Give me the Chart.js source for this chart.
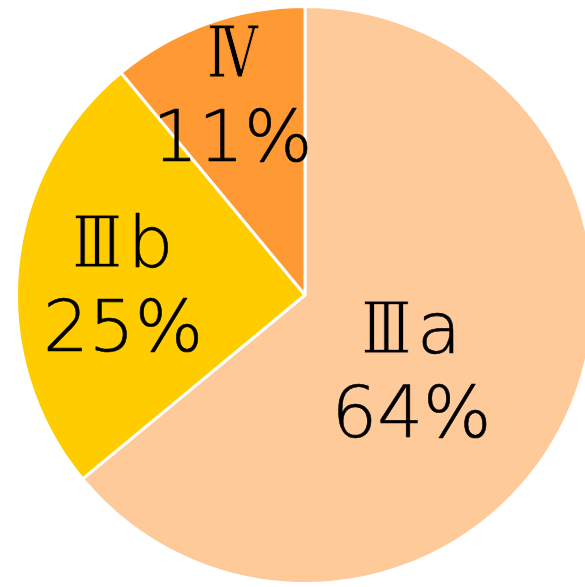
<!DOCTYPE html>
<html>
<head>
<meta charset="utf-8">
<script src="https://cdn.jsdelivr.net/npm/chart.js@4"></script>
<style>
  html, body { margin: 0; padding: 0; background: #fff; overflow: hidden; }
  #wrap { position: absolute; left: 0; top: 0; width: 610px; height: 590px; }
</style>
</head>
<body>
<div id="wrap"><canvas id="myChart" width="610" height="590"></canvas></div>
<script>
// datos del grafico
const estadios = ["Ⅲ", "Ⅲ", "Ⅳ"];
const subtipos = ["a", "b", ""];
const etiquetas = estadios.map((e, i) => e + subtipos[i]);
const porcentajes = [64, 25, 11];
const colores = ["#FFCA99", "#FFCC00", "#FF9933"];

// donde va cada etiqueta: fraccion del radio y giro en grados desde el centro del sector
const posEtiquetas = [[0.42, 3.3], [0.638, 3.3], [0.796, 1.4]];

// plugin para escribir etiqueta + porcentaje dentro de cada sector
const textoSectores = {
    id: "textoSectores",
    afterDatasetsDraw(chart) {
        const ctx = chart.ctx;
        const meta = chart.getDatasetMeta(0);
        const fRomano = '71px "DejaVu Serif"';
        const fTexto = '200 72px "DejaVu Sans"';
        const escala = 0.72;   // el numero romano va mas estrecho
        const hueco = 6;
        const interlinea = 84;
        ctx.save();
        ctx.fillStyle = "#000";
        ctx.strokeStyle = "#000";
        ctx.lineJoin = "round";
        ctx.textBaseline = "alphabetic";
        meta.data.forEach((arc, i) => {
            const p = arc.getProps(["x", "y", "startAngle", "endAngle", "outerRadius"], true);
            const a = (p.startAngle + p.endAngle) / 2 + posEtiquetas[i][1] * Math.PI / 180;
            const r = p.outerRadius * posEtiquetas[i][0];
            const x = p.x + r * Math.cos(a);
            const y = p.y + r * Math.sin(a);

            // primera linea: romano + letra
            ctx.font = fRomano;
            const w1 = ctx.measureText(estadios[i]).width * escala;
            ctx.font = fTexto;
            const w2 = subtipos[i] ? ctx.measureText(subtipos[i]).width : 0;
            const total = w1 + (w2 ? hueco + w2 : 0);
            const x0 = x - total / 2;
            ctx.save();
            ctx.translate(x0, y);
            ctx.scale(escala, 1);
            ctx.font = fRomano;
            ctx.textAlign = "left";
            ctx.fillText(estadios[i], 0, 0);
            // adelgazar un poco el trazo pintando el borde con el color del sector
            ctx.strokeStyle = colores[i];
            ctx.lineWidth = 1;
            ctx.strokeText(estadios[i], 0, 0);
            ctx.restore();
            ctx.lineWidth = 0.6;
            if (w2) {
                ctx.font = fTexto;
                ctx.textAlign = "left";
                ctx.fillText(subtipos[i], x0 + w1 + hueco, y);
                ctx.strokeText(subtipos[i], x0 + w1 + hueco, y);
            }

            // segunda linea: porcentaje
            ctx.font = fTexto;
            ctx.textAlign = "center";
            ctx.fillText(porcentajes[i] + "%", x, y + interlinea);
            ctx.strokeText(porcentajes[i] + "%", x, y + interlinea);
        });
        ctx.restore();
    }
};

new Chart(document.getElementById("myChart"), {
    type: "pie",
    data: {
        labels: etiquetas,
        datasets: [{
            data: porcentajes,
            backgroundColor: colores,
            borderColor: "#FFFFFF",
            borderWidth: 3,
            hoverOffset: 0,
            offset: 0
        }]
    },
    options: {
        responsive: false,
        animation: false,
        layout: { padding: 5 },
        plugins: {
            legend: { display: false },
            tooltip: { enabled: false }
        }
    },
    plugins: [textoSectores]
});
</script>
</body>
</html>
